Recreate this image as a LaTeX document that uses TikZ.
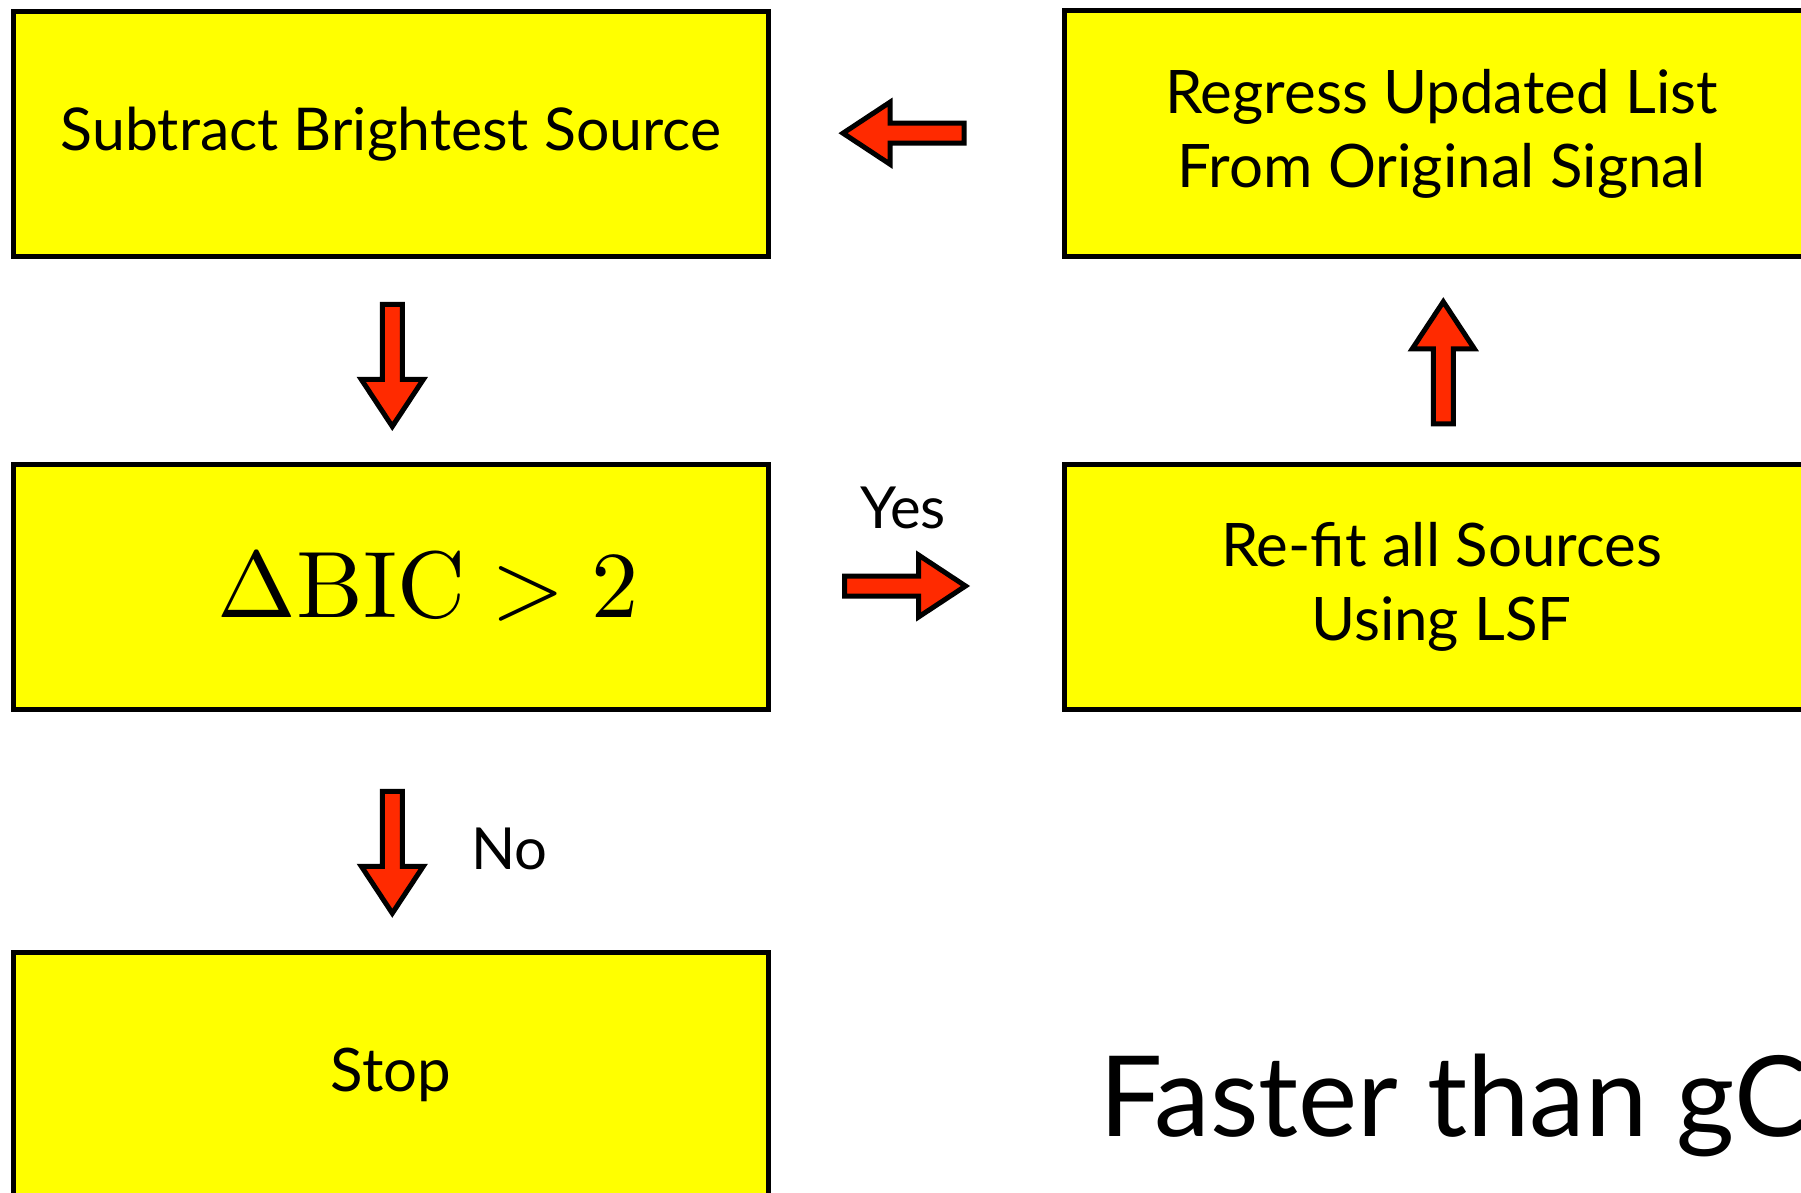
\documentclass[tikz,border=0pt]{standalone}
\usepackage[no-math]{fontspec}
\setmainfont{Lato}
\usetikzlibrary{calc}
\definecolor{boxyellow}{RGB}{255,255,0}
\definecolor{arrowred}{RGB}{255,42,0}
\tikzset{
  box/.style={draw=black, line width=5pt, fill=boxyellow, minimum width=755pt,
    minimum height=245.5pt, inner sep=0pt, align=center,
    font=\fontsize{60}{74}\selectfont},
  blockarrow/.style={draw=black, line width=5pt, fill=arrowred, line join=miter},
  lbl/.style={inner sep=0pt, font=\fontsize{58}{70}\selectfont},
}
% #1 tip coordinate name
\newcommand\arrowdown[1]{\draw[blockarrow, shift={(#1)}] (0,0) -- (31,-47) -- (10,-47) -- (10,-122) -- (-10,-122) -- (-10,-47) -- (-31,-47) -- cycle;}
\newcommand\arrowup[1]{\draw[blockarrow, shift={(#1)}] (0,0) -- (31,47) -- (10,47) -- (10,122) -- (-10,122) -- (-10,47) -- (-31,47) -- cycle;}
\newcommand\arrowleft[1]{\draw[blockarrow, shift={(#1)}] (0,0) -- (47,-31) -- (47,-10) -- (121,-10) -- (121,10) -- (47,10) -- (47,31) -- cycle;}
\newcommand\arrowright[1]{\draw[blockarrow, shift={(#1)}] (0,0) -- (-47,-31) -- (-47,-10) -- (-121,-10) -- (-121,10) -- (-47,10) -- (-47,31) -- cycle;}
\begin{document}
\begin{tikzpicture}[x=1pt, y=-1pt]
  \useasboundingbox (0,0) rectangle (1801,1193);
  \fill[white] (0,0) rectangle (1801,1193);
  % boxes
  \node[box, font=\fontsize{59}{74}\selectfont] (b1) at (391,134.2) {Subtract Brightest Source};
  \node[box, font=\normalsize] (b2) at (391,587) {\hspace*{74pt}\scalebox{9.44}{$\Delta\mathrm{BIC}>2$}};
  \node[box] (b3) at (391,1075.2) {Stop};
  \node[box] (r1) at (1441.5,133.5) {Regress Updated List\\From Original Signal};
  \node[box] (r2) at (1441.5,587) {Re-fit all Sources\\Using LSF};
  % arrow tips
  \coordinate (t1) at ($(b1.south)+(1.3,167)$);
  \coordinate (t2) at ($(b2.south)+(1.3,201)$);
  \coordinate (t3) at ($(r2.north)+(1.8,-160)$);
  \coordinate (t4) at ($(b1.east)+(72,-1)$);
  \coordinate (t5) at ($(r2.west)+(-96,-1)$);
  \arrowdown{t1}
  \arrowdown{t2}
  \arrowup{t3}
  \arrowleft{t4}
  \arrowright{t5}
  % labels
  \node[lbl, anchor=base] (yes) at (903,528) {Yes};
  \node[lbl, anchor=base west] (no) at (471,869.5) {No};
  \node[inner sep=0pt, anchor=base west, font=\fontsize{112}{134}\selectfont] (fast) at (1099,1136.7) {Faster than gCL};
\end{tikzpicture}
\end{document}
